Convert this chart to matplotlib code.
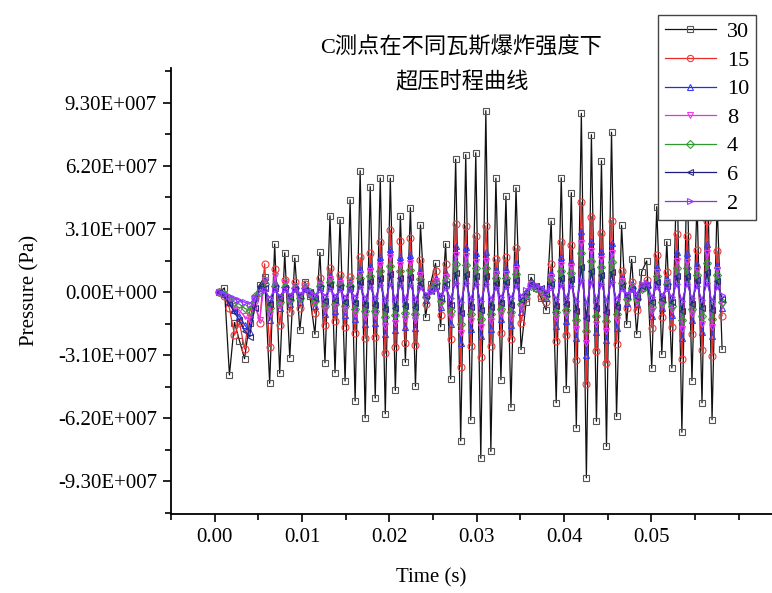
import numpy as np
import matplotlib
matplotlib.use("Agg")
import matplotlib.pyplot as plt
from matplotlib.ticker import FixedLocator, FixedFormatter, MultipleLocator

plt.rcParams['font.family'] = ['Liberation Serif', 'Noto Sans CJK SC']

# time samples (s)
n_pts = 101
time_s = 0.00054 + np.arange(n_pts) * 0.0005756

# pressure values in units of 1e7 Pa
p30 = [0.0, 0.2, -4.08, -1.5, -2.40, -3.28, -1.5, -0.3, 0.34, 0.75,
       -4.49, 2.36, -4.0, 1.93, -3.23, 1.67, -1.87, 0.51, -0.2, -2.08,
       1.95, -3.48, 3.75, -3.97, 3.56, -4.38, 4.54, -5.36, 5.97, -6.19,
       5.18, -5.22, 5.61, -5.99, 5.60, -4.84, 3.75, -3.46, 4.15, -4.64,
       3.30, -1.25, 0.4, 1.41, -1.71, 2.38, -4.28, 6.54, -7.32, 6.76,
       -6.30, 6.85, -8.18, 8.92, -7.84, 5.60, -4.32, 4.72, -5.67, 5.13,
       -2.84, -0.5, 0.72, 0.2, -0.3, -0.89, 3.49, -5.45, 5.62, -4.76,
       4.89, -6.69, 8.79, -9.14, 7.74, -6.36, 6.46, -7.59, 7.86, -6.12,
       3.28, -1.59, 1.61, -2.07, 1.00, 1.53, -3.75, 4.20, -3.07, 2.48,
       -3.74, 6.2, -6.90, 6.0, -4.36, 4.5, -5.45, 7.5, -6.28, 4.4,
       -2.82]
p15 = [0.0, -0.2, -0.80, -2.12, -1.5, -2.8, -1.0, -0.3, -1.5, 1.39,
       -2.69, 1.12, -1.62, 0.6, -1.0, 0.5, -0.8, 0.4, -0.1, -1.05,
       0.67, -1.62, 1.17, -1.41, 0.84, -1.7, 0.72, -2.0, 1.70, -2.28,
       1.90, -2.2, 2.48, -3.02, 3.05, -2.7, 2.52, -2.52, 2.64, -2.61,
       1.57, -0.6, 0.2, 1.05, -1.13, 1.38, -2.31, 3.33, -3.67, 3.26,
       -2.64, 2.76, -3.18, 3.26, -2.64, 1.61, -2.0, 1.71, -2.33, 2.15,
       -1.5, -0.3, 0.4, 0.2, -0.2, -0.5, 1.38, -2.41, 2.47, -2.12,
       2.30, -3.33, 4.41, -4.54, 3.71, -2.89, 2.89, -3.48, 3.51, -2.54,
       1.05, -0.8, 0.5, -0.9, 0.3, 0.6, -1.76, 1.82, -1.21, 0.98,
       -1.72, 2.84, -3.28, 2.77, -2.07, 2.07, -2.87, 3.48, -3.15, 2.02,
       -1.17]
p10 = [0.0, -0.1, -0.5, -0.9, -1.2, -1.6, -1.95, -0.3, 0.2, 0.6,
       -1.4, 0.5, -0.8, 0.4, -0.6, 0.3, -0.5, 0.3, -0.1, -0.7,
       0.45, -1.1, 0.8, -0.95, 0.57, -1.15, 0.5, -1.35, 1.15, -1.55,
       1.3, -1.5, 1.7, -2.05, 2.1, -1.85, 1.7, -1.7, 1.8, -1.75,
       1.05, -0.4, 0.15, 0.7, -0.75, 0.95, -1.55, 2.25, -2.5, 2.2,
       -1.8, 1.9, -2.15, 1.95, -1.8, 1.1, -1.35, 1.15, -1.6, 1.45,
       -1.0, -0.2, 0.5, 0.3, 0.1, -0.3, 0.95, -1.65, 1.7, -1.45,
       1.55, -2.25, 3.0, -3.1, 2.5, -1.95, 2.0, -2.35, 2.4, -1.75,
       0.7, -0.55, 0.35, -0.6, 0.2, 0.4, -1.2, 1.25, -0.8, 0.65,
       -1.15, 1.95, -2.25, 1.9, -1.4, 1.4, -1.95, 2.35, -2.15, 1.35,
       -0.8]
p8 = [0.0, -0.1, -0.4, -0.7, -0.9, -1.2, -1.4, -0.6, -1.4, 0.6,
      -1.1, 0.8, -0.7, 0.5, -0.5, 0.3, -0.4, 0.3, -0.1, -0.55,
      0.35, -0.9, 0.65, -0.75, 0.45, -0.9, 0.4, -1.1, 0.9, -1.25,
      1.05, -1.2, 1.35, -1.65, 1.7, -1.5, 1.35, -1.35, 1.45, -1.4,
      0.85, -0.3, 0.1, 0.55, -0.6, 0.75, -1.25, 1.8, -2.0, 1.75,
      -1.45, 1.5, -1.7, 1.55, -1.45, 0.9, -1.1, 0.9, -1.3, 1.15,
      -0.8, -0.2, 0.4, 0.3, 0.0, -0.25, 0.75, -1.3, 1.35, -1.15,
      1.25, -1.8, 2.4, -2.5, 2.0, -1.55, 1.6, -1.9, 1.9, -1.4,
      0.55, -0.45, 0.3, -0.5, 0.2, 0.35, -0.95, 1.0, -0.65, 0.5,
      -0.9, 1.55, -1.8, 1.5, -1.1, 1.1, -1.55, 1.9, -1.7, 1.1,
      -0.65]
p4 = [0.0, -0.1, -0.3, -0.5, -0.6, -0.8, -0.9, -0.2, 0.0, 0.4,
      -0.8, 0.3, -0.5, 0.25, -0.4, 0.2, -0.3, 0.2, 0.0, -0.45,
      0.3, -0.7, 0.5, -0.6, 0.35, -0.7, 0.3, -0.85, 0.7, -0.95,
      0.8, -0.95, 1.05, -1.25, 1.3, -1.15, 1.05, -1.05, 1.1, -1.1,
      0.65, -0.25, 0.1, 0.45, -0.45, 0.6, -0.95, 1.4, -1.55, 1.35,
      -1.1, 1.2, -1.35, 1.2, -1.1, 0.7, -0.85, 0.7, -1.0, 0.9,
      -0.6, -0.1, 0.3, 0.2, 0.1, -0.2, 0.6, -1.0, 1.05, -0.9,
      0.95, -1.4, 1.9, -1.9, 1.55, -1.2, 1.25, -1.45, 1.5, -1.1,
      0.45, -0.35, 0.2, -0.35, 0.15, 0.25, -0.75, 0.8, -0.5, 0.4,
      -0.7, 1.2, -1.4, 1.2, -0.85, 0.85, -1.2, 1.45, -1.35, 0.85,
      -0.5]
p6 = [0.0, -0.2, -0.6, -1.0, -1.4, -1.9, -2.2, -0.8, 0.3, 0.2,
      -0.6, 0.2, -0.3, 0.2, -0.25, 0.15, -0.2, 0.1, 0.0, -0.3,
      0.2, -0.45, 0.35, -0.4, 0.25, -0.5, 0.2, -0.55, 0.5, -0.65,
      0.55, -0.65, 0.7, -0.85, 0.9, -0.8, 0.7, -0.7, 0.75, -0.75,
      0.45, -0.2, 0.05, 0.3, -0.3, 0.4, -0.65, 0.95, -1.05, 0.9,
      -0.75, 0.8, -0.9, 0.8, -0.75, 0.45, -0.55, 0.5, -0.65, 0.6,
      -0.4, 0.0, 0.4, 0.3, 0.2, -0.1, 0.4, -0.7, 0.7, -0.6,
      0.65, -0.95, 1.25, -1.3, 1.05, -0.8, 0.85, -1.0, 1.0, -0.75,
      0.3, -0.2, 0.15, -0.25, 0.3, 0.35, -0.5, 0.5, -0.35, 0.3,
      -0.5, 0.8, -0.95, 0.8, -0.6, 0.6, -0.8, 1.0, -0.9, 0.55,
      -0.35]
p2 = [0.0, -0.1, -0.2, -0.3, -0.4, -0.5, -0.6, -0.3, 0.0, 0.1,
      -0.3, 0.1, -0.2, 0.1, -0.15, 0.1, -0.1, 0.1, 0.0, -0.15,
      0.1, -0.2, 0.15, -0.2, 0.1, -0.25, 0.1, -0.25, 0.25, -0.3,
      0.25, -0.3, 0.35, -0.4, 0.4, -0.35, 0.35, -0.35, 0.35, -0.35,
      0.2, -0.1, 0.0, 0.15, -0.15, 0.2, -0.3, 0.45, -0.5, 0.45,
      -0.35, 0.4, -0.45, 0.4, -0.35, 0.2, -0.25, 0.25, -0.3, 0.3,
      -0.2, 0.1, 0.3, 0.35, 0.2, 0.0, 0.2, -0.35, 0.35, -0.3,
      0.3, -0.45, 0.6, -0.6, 0.5, -0.4, 0.4, -0.45, 0.5, -0.35,
      0.15, -0.1, 0.1, -0.1, 0.4, 0.45, -0.25, 0.25, -0.15, 0.15,
      -0.25, 0.4, -0.45, 0.4, -0.3, 0.3, -0.4, 0.45, -0.45, 0.25,
      -0.15]

series_labels = ["30", "15", "10", "8", "4", "6", "2"]
series_data = [p30, p15, p10, p8, p4, p6, p2]
colors = ["#111111", "#ee2a2a", "#2a2aee", "#ee2aee", "#2e9a2e", "#1c1c80", "#8a2aff"]
edge_colors = ["#555555", "#ee3a3a", "#3a3aee", "#ee3aee", "#3a9a3a", "#2c2c90", "#9a3aff"]
markers = ["s", "o", "^", "v", "D", "<", ">"]
msizes = [5, 5, 5, 5, 4, 5, 5]

ytick_vals = [-9.3e7, -6.2e7, -3.1e7, 0.0, 3.1e7, 6.2e7, 9.3e7]
ytick_labels = ["-9.30E+007", "-6.20E+007", "-3.10E+007", "0.00E+000",
                "3.10E+007", "6.20E+007", "9.30E+007"]
xtick_vals = [0.00, 0.01, 0.02, 0.03, 0.04, 0.05]
xtick_labels = ["0.00", "0.01", "0.02", "0.03", "0.04", "0.05"]

W, H = 772, 593
fig = plt.figure(figsize=(W / 100, H / 100), dpi=100)
ax = fig.add_axes([171 / W, 1 - 514 / H, (W - 171) / W, (514 - 68) / H])

for lab, data, c, ec, m, ms in zip(series_labels, series_data, colors, edge_colors, markers, msizes):
    ax.plot(time_s, np.array(data) * 1e7, color=c, lw=0.9, marker=m, ms=ms,
            mfc="none", mec=ec, mew=0.8, label=lab)

ax.set_xlim(-0.005, -0.005 + (W - 171) / 8734)
ax.set_ylim(-10.92e7, 11.02e7)

for s in ["top", "right"]:
    ax.spines[s].set_visible(False)
for s in ["left", "bottom"]:
    ax.spines[s].set_linewidth(1.3)

ax.yaxis.set_major_locator(FixedLocator(ytick_vals))
ax.yaxis.set_major_formatter(FixedFormatter(ytick_labels))
ax.yaxis.set_minor_locator(MultipleLocator(1.55e7))
ax.xaxis.set_major_locator(FixedLocator(xtick_vals))
ax.xaxis.set_major_formatter(FixedFormatter(xtick_labels))
ax.xaxis.set_minor_locator(MultipleLocator(0.005))
ax.tick_params(which="major", direction="out", length=6, width=1.2, labelsize=15, pad=4)
ax.tick_params(which="minor", direction="out", length=4, width=1.2)

ax.set_ylabel("Pressure (Pa)", fontsize=15)
ax.yaxis.set_label_coords((30 - 171) / (W - 171), 0.502)
ax.set_xlabel("Time (s)", fontsize=15)
ax.xaxis.set_label_coords((431 - 171) / (W - 171), (514 - 578) / (514 - 68))
ax.xaxis.label.set_va("center")
ax.yaxis.label.set_va("center")

fig.text(461 / W, 1 - 47 / H, "C测点在不同瓦斯爆炸强度下", ha="center", va="center", fontsize=16)
fig.text(462 / W, 1 - 83 / H, "超压时程曲线", ha="center", va="center", fontsize=16)

leg = fig.legend(loc="upper left", bbox_to_anchor=(658 / W, 1 - 15 / H), fontsize=16,
                 frameon=True, fancybox=False, edgecolor="#444444", framealpha=1,
                 handlelength=2.3, handletextpad=0.5, labelspacing=0.36,
                 borderpad=0.3, markerscale=0.9, borderaxespad=0)
leg.get_frame().set_linewidth(1.0)

fig.savefig("out.png", dpi=100)
